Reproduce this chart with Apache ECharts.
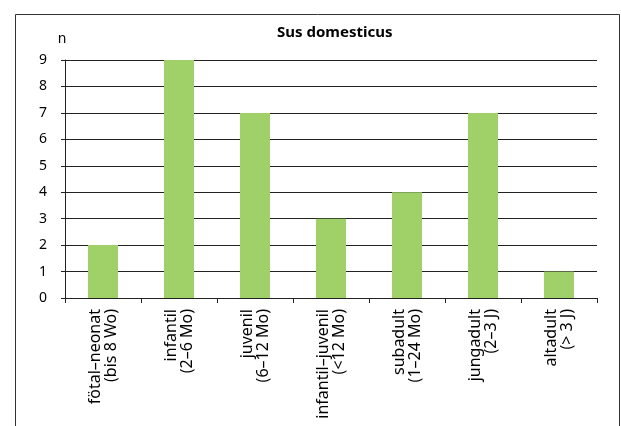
<!DOCTYPE html>
<html>
<head>
<meta charset="utf-8">
<script src="https://cdn.jsdelivr.net/npm/echarts@6/dist/echarts.min.js"></script>
<style>
  html, body { margin: 0; padding: 0; background: #fff; }
  #chart { width: 621px; height: 426px; }
</style>
</head>
<body>
<div id="chart"></div>
<script>
// Age classes of Sus domesticus (number of individuals)
const categories = [
  'fötal–neonat\n(bis 8 Wo)',
  'infantil\n(2–6 Mo)',
  'juvenil\n(6–12 Mo)',
  'infantil–juvenil\n(<12 Mo)',
  'subadult\n(1–24 Mo)',
  'jungadult\n(2–3 J)',
  'altadult\n(> 3 J)'
];
const counts = [2, 9, 7, 3, 4, 7, 1];
const yTicks = { min: 0, max: 9, interval: 1 };

const font = '"Noto Sans", "Open Sans", sans-serif';
const chart = echarts.init(document.getElementById('chart'), null, { renderer: 'canvas' });

chart.setOption({
  animation: false,
  backgroundColor: '#fff',
  title: {
    text: 'Sus domesticus',
    left: 272,
    top: 20,
    textStyle: { fontFamily: font, fontSize: 15, fontWeight: 'bold', color: '#000' }
  },
  graphic: [{
    type: 'rect',
    shape: { x: 15.5, y: 14.5, width: 604, height: 440 },
    style: { fill: 'none', stroke: '#333', lineWidth: 1 },
    silent: true
  }],
  grid: { left: 65, right: 24, top: 60, bottom: 128, containLabel: false },
  xAxis: {
    type: 'category',
    data: categories,
    axisLine: { lineStyle: { color: '#222', width: 1 } },
    axisTick: { show: true, length: 5, alignWithLabel: false, lineStyle: { color: '#222' } },
    axisLabel: {
      rotate: 90,
      interval: 0,
      margin: 11,
      fontFamily: font,
      fontSize: 16,
      lineHeight: 16,
      color: '#000'
    }
  },
  yAxis: {
    type: 'value',
    min: yTicks.min,
    max: yTicks.max,
    interval: yTicks.interval,
    name: 'n',
    nameLocation: 'end',
    nameGap: 14,
    nameTextStyle: { fontFamily: font, fontSize: 14, color: '#000', padding: [0, 6, 0, 0] },
    axisLine: { show: true, lineStyle: { color: '#222', width: 1 } },
    axisTick: { show: true, length: 4, lineStyle: { color: '#222' } },
    axisLabel: { margin: 18, fontFamily: font, fontSize: 14, color: '#000' },
    splitLine: { show: true, lineStyle: { color: '#222', width: 1 } }
  },
  series: [{
    type: 'bar',
    data: counts,
    barWidth: 30,
    itemStyle: { color: '#A0D068' },
    silent: true
  }]
});
</script>
</body>
</html>
